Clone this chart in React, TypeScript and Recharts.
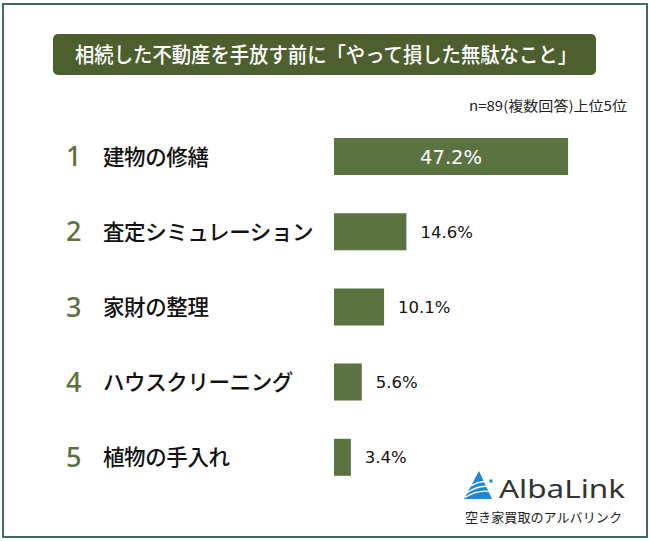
import React from "react";
import { BarChart, Bar, XAxis, YAxis, LabelList } from "recharts";

const ranks = ["1", "2", "3", "4", "5"];
const categories = ["建物の修繕", "査定シミュレーション", "家財の整理", "ハウスクリーニング", "植物の手入れ"];
const values = [47.2, 14.6, 10.1, 5.6, 3.4];

const data = categories.map((name, i) => ({ name, rank: ranks[i], value: values[i] }));

const JP = "'Noto Sans CJK JP', 'Noto Sans', sans-serif";
const NUM = "'DejaVu Sans', Verdana, sans-serif";
const GREEN = "#5b7241";

const CategoryTick = (props: any) => {
  const { y, payload, index } = props;
  return (
    <g>
      <text x={66} y={y} dy={9.5} fontSize={27} fontWeight={500} fill={GREEN} fontFamily="'Noto Sans', sans-serif">
        {ranks[index]}
      </text>
      <text x={103} y={y} dy={8} fontSize={21.5} fontWeight={500} letterSpacing={-0.4} fill="#111" fontFamily={JP}>
        {payload.value}
      </text>
    </g>
  );
};

const ValueLabel = (props: any) => {
  const { x, y, width, height, value, index } = props;
  const cy = y + height / 2;
  if (index === 0) {
    return (
      <text x={x + width / 2} y={cy} dy={7} textAnchor="middle" fontSize={19.5} fill="#fff" fontFamily={NUM}>
        {value.toFixed(1)}%
      </text>
    );
  }
  return (
    <text x={x + width + 14} y={cy} dy={6} textAnchor="start" fontSize={16.5} fill="#111" fontFamily={NUM}>
      {value.toFixed(1)}%
    </text>
  );
};

export default function App() {
  return (
    <div style={{ position: "absolute", left: 0, top: 0, width: 650, height: 541, background: "#fff" }}>
      <div
        style={{
          position: "absolute",
          left: 2,
          top: 3,
          width: 642,
          height: 531,
          border: "2px solid #3e6b63",
        }}
      />
      <svg style={{ position: "absolute", left: 0, top: 0 }} width={650} height={541}>
        <rect x={53} y={34} width={543} height={41} rx={5} fill="#4d5f2e" />
        <text
          x={75}
          y={62}
          fontSize={21}
          fontWeight={500}
          fill="#fff"
          fontFamily={JP}
          textLength={502}
          lengthAdjust="spacingAndGlyphs"
        >
          相続した不動産を手放す前に「やって損した無駄なこと」
        </text>
        <text
          x={627}
          y={111}
          textAnchor="end"
          fontSize={13.5}
          fill="#222"
          fontFamily={JP}
          textLength={158}
          lengthAdjust="spacingAndGlyphs"
        >
          n=89(複数回答)上位5位
        </text>
        {/* logo */}
        <g>
          <polygon points="479,471 464,499 492,499" fill="#1e88d6" />
          <path d="M467,493 Q479,484 492,487" stroke="#fff" strokeWidth={1.5} fill="none" />
          <path d="M465,497.5 Q479,489 492,492" stroke="#fff" strokeWidth={1.3} fill="none" />
          <path d="M471,486 Q481,480 490,482" stroke="#fff" strokeWidth={1.3} fill="none" />
          <circle cx={491} cy={481} r={1.8} fill="#1e88d6" />
          <text x={499} y={498} fontSize={25} fill="#333" fontFamily="'Noto Sans', sans-serif" textLength={126} lengthAdjust="spacingAndGlyphs">
            AlbaLink
          </text>
          <text x={465} y={522} fontSize={13} fill="#222" fontFamily={JP} textLength={157} lengthAdjust="spacingAndGlyphs">
            空き家買取のアルバリンク
          </text>
        </g>
      </svg>
      <div style={{ position: "absolute", left: 0, top: 0 }}>
        <BarChart
          width={650}
          height={541}
          data={data}
          layout="vertical"
          margin={{ top: 119, right: 68, bottom: 46, left: 0 }}
          barCategoryGap={38}
        >
          <XAxis type="number" domain={[0, 50]} hide />
          <YAxis
            type="category"
            dataKey="name"
            width={334}
            axisLine={false}
            tickLine={false}
            tick={<CategoryTick />}
          />
          <Bar dataKey="value" fill={GREEN} barSize={37} isAnimationActive={false}>
            <LabelList dataKey="value" content={<ValueLabel />} />
          </Bar>
        </BarChart>
      </div>
    </div>
  );
}
